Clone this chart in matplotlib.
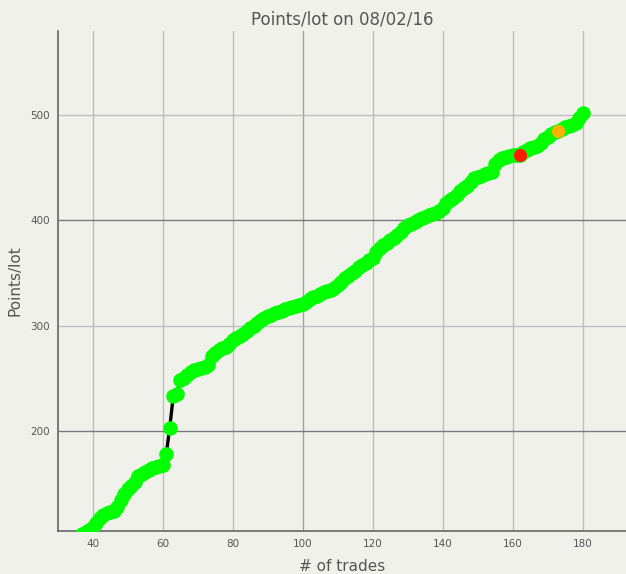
import matplotlib
matplotlib.use("Agg")
import matplotlib.pyplot as plt

# trade number and cumulative points/lot
trades = list(range(37, 181))
points = [102, 104, 106, 109, 113, 117, 120, 122, 123, 124,
          128, 134, 140, 145, 148, 152, 157, 159, 161, 163,
          165, 166, 167, 168, 178, 203, 233, 235, 248, 250,
          253, 256, 258, 259, 260, 261, 263, 271, 274, 277,
          279, 280, 283, 286, 288, 290, 292, 295, 298, 300,
          303, 305, 307, 309, 310, 312, 313, 314, 316, 317,
          318, 319, 320, 321, 323, 325, 327, 328, 330, 332,
          333, 334, 336, 339, 342, 345, 347, 350, 352, 356,
          358, 360, 362, 364, 370, 374, 377, 379, 381, 383,
          386, 389, 393, 396, 397, 399, 400, 402, 403, 405,
          406, 407, 409, 412, 417, 419, 421, 424, 428, 431,
          433, 437, 440, 441, 442, 444, 445, 446, 454, 457,
          459, 460, 461, 462, 462, 462, 465, 467, 469, 470,
          471, 474, 477, 479, 482, 484, 485, 487, 489, 490,
          491, 493, 497, 502]

red_pt = (162, 462)
orange_pt = (173, 485)

xticks = [40, 60, 80, 100, 120, 140, 160, 180]
yticks = [200, 300, 400, 500]

bg = "#f1f1ec"
txt = "#555555"

fig = plt.figure(figsize=(6.26, 5.74), dpi=100, facecolor=bg)
ax = fig.add_axes([0.0934, 0.0749, 0.9066, 0.8711], facecolor=bg)

ax.plot(trades, points, color="black", linewidth=2.4, zorder=2)
ax.plot(trades, points, linestyle="none", marker="o", markersize=10.5,
        markerfacecolor="#00ff00", markeredgewidth=0, zorder=3)
ax.plot(*red_pt, marker="o", markersize=9.5, color="#ff1a00", markeredgewidth=0, zorder=4)
ax.plot(*orange_pt, marker="o", markersize=9.5, color="#ffb000", markeredgewidth=0, zorder=4)

ax.set_xlim(30.2, 192.4)
ax.set_ylim(105, 580)
ax.set_xticks(xticks)
ax.set_yticks(yticks)
ax.grid(True, color="#bdbdbd", linewidth=1)
ax.set_axisbelow(True)
for val, gl in zip(yticks, ax.get_ygridlines()):
    if val in (200, 400):
        gl.set_color("#7a7a7a")
for val, gl in zip(xticks, ax.get_xgridlines()):
    if val == 100:
        gl.set_color("#a0a0a0")

for side in ("top", "right"):
    ax.spines[side].set_visible(False)
for side in ("left", "bottom"):
    ax.spines[side].set_color("#666666")
    ax.spines[side].set_linewidth(1.2)

ax.tick_params(length=0, labelsize=7.5, labelcolor=txt, pad=6)
ax.set_title("Points/lot on 08/02/16", color=txt, fontsize=12, pad=5)
ax.set_xlabel("# of trades", color=txt, fontsize=11, labelpad=7)
ax.set_ylabel("Points/lot", color=txt, fontsize=11, labelpad=6)

fig.savefig("out.png", dpi=100, facecolor=bg)
